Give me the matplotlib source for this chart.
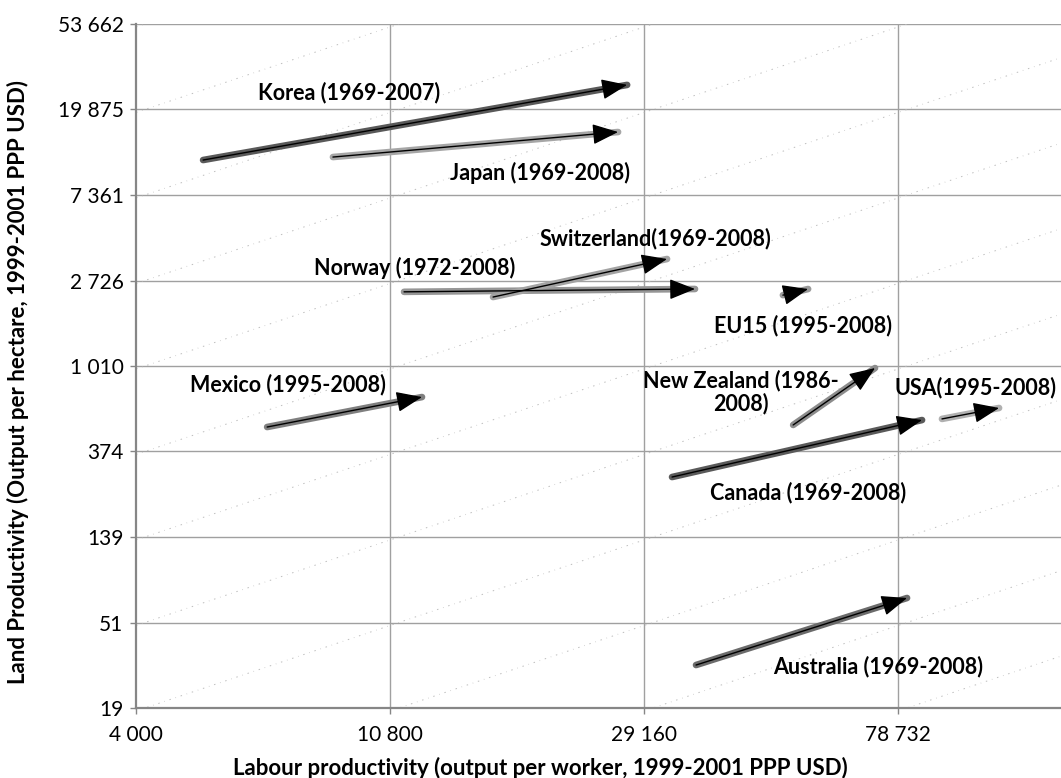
import numpy as np
import matplotlib
matplotlib.use("Agg")
import matplotlib.pyplot as plt
from matplotlib.ticker import FixedLocator, FixedFormatter, NullLocator

plt.rcParams['font.family'] = ['Lato', 'DejaVu Sans']

# ---- data -----------------------------------------------------------------
countries = ["Korea (1969-2007)", "Japan (1969-2008)", "Norway (1972-2008)",
             "Switzerland(1969-2008)", "EU15 (1995-2008)", "New Zealand (1986-\n2008)",
             "USA(1995-2008)", "Canada (1969-2008)", "Mexico (1995-2008)",
             "Australia (1969-2008)"]
labour_start = [5200, 8640, 11410, 16160, 50200, 52250, 93500, 32540, 6680, 35740]
labour_end = [27300, 26350, 35600, 31910, 55400, 71970, 116900, 86500, 12240, 81570]
land_start = [11050, 11440, 2390, 2250, 2300, 509, 546, 278, 497, 31.3]
land_end = [26450, 15300, 2470, 3500, 2470, 986, 620, 539, 704, 68.2]

x_ticks = [4000, 10800, 29160, 78732]
x_tick_labels = ["4 000", "10 800", "29 160", "78 732"]
y_ticks = [19, 51, 139, 374, 1010, 2726, 7361, 19875, 53662]
y_tick_labels = ["19", "51", "139", "374", "1 010", "2 726", "7 361", "19 875", "53 662"]

# ---- styling ----------------------------------------------------------------
line_colors = ['#595959', '#a6a6a6', '#969696', '#a3a3a3', '#9a9a9a',
               '#8c8c8c', '#b0b0b0', '#5a5a5a', '#7f7f7f', '#6b6b6b']
label_pos = [(9200, 24090), (19420, 9500), (11910, 3150), (30440, 4420),
             (54300, 1607), (42600, 746), (106800, 791), (55400, 231),
             (7245, 819), (72800, 30.9)]

W, H = 1061, 778
fig = plt.figure(figsize=(W / 100, H / 100), dpi=100)
ax = fig.add_axes([136 / W, 1 - 708 / H, (W - 136) / W, (708 - 24) / H])
ax.set_xscale('log')
ax.set_yscale('log')
step = 2.7
xmax = 4000 * step ** ((W - 136) / 254)
ax.set_xlim(4000, xmax)
ax.set_ylim(19, 53662)

# grid
for yv in y_ticks[1:]:
    ax.axhline(yv, color='#a0a0a0', lw=1.0, zorder=1)
for xv in x_ticks[1:]:
    ax.axvline(xv, color='#a0a0a0', lw=1.0, zorder=1)

# iso-lines of constant land per worker
xs = np.geomspace(4000, xmax, 200)
for m in range(-5, 10):
    ax.plot(xs, xs * (19 / 4000) * step ** (m - 0.035), color='#bdbdbd',
            lw=0.7, dashes=(1.5, 5, 0.6, 5), zorder=1)

# arrows
for i, name in enumerate(countries):
    x0, x1 = labour_start[i], labour_end[i]
    y0, y1 = land_start[i], land_end[i]
    ax.plot([x0, x1], [y0, y1], color=line_colors[i], lw=4.8,
            solid_capstyle='round', zorder=3)
    ax.annotate('', xy=(x1, y1), xytext=(x0, y0),
                arrowprops=dict(arrowstyle='-|>,head_length=1.0,head_width=0.4',
                                mutation_scale=16, color='black', lw=1.0,
                                shrinkA=0, shrinkB=0), zorder=4)
    lx, ly = label_pos[i]
    ax.text(lx, ly, name, ha='center', va='center', fontsize=15.5,
            fontweight='bold', color='black', linespacing=1.1, zorder=5)

# axes
for s in ['top', 'right']:
    ax.spines[s].set_visible(False)
for s in ['left', 'bottom']:
    ax.spines[s].set_color('#868686')
    ax.spines[s].set_linewidth(1.6)
ax.xaxis.set_major_locator(FixedLocator(x_ticks))
ax.xaxis.set_major_formatter(FixedFormatter(x_tick_labels))
ax.yaxis.set_major_locator(FixedLocator(y_ticks))
ax.yaxis.set_major_formatter(FixedFormatter(y_tick_labels))
ax.xaxis.set_minor_locator(NullLocator())
ax.yaxis.set_minor_locator(NullLocator())
ax.tick_params(axis='both', direction='out', length=4, width=1, color='#868686',
               labelsize=15, labelcolor='black')
ax.tick_params(axis='x', pad=8)
ax.tick_params(axis='y', pad=5)

fig.text(540 / W, 1 - 768 / H,
         "Labour productivity (output per worker, 1999-2001 PPP USD)",
         ha='center', va='center', fontsize=16, fontweight='bold')
fig.text(18 / W, 1 - 382 / H,
         "Land Productivity (Output per hectare, 1999-2001 PPP USD)",
         ha='center', va='center', fontsize=16, fontweight='bold', rotation=90)

fig.savefig('out.png', dpi=100)
